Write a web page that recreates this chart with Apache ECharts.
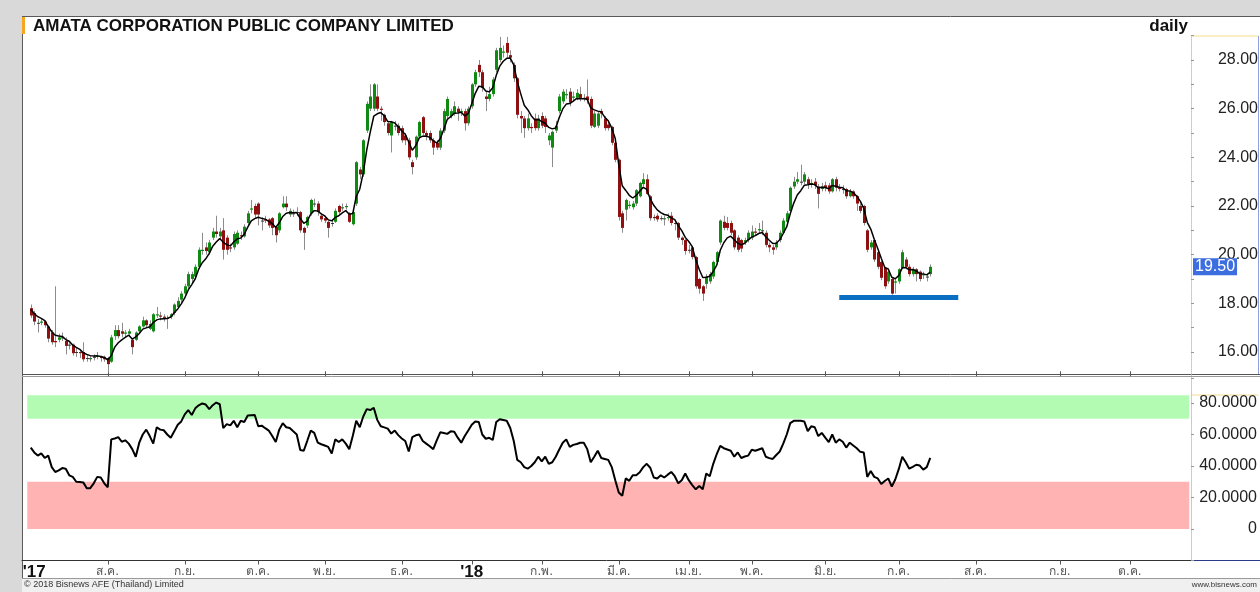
<!DOCTYPE html>
<html>
<head>
<meta charset="utf-8">
<title>AMATA daily</title>
<script src="https://cdn.jsdelivr.net/npm/echarts/dist/echarts.min.js"></script>
<style>
  html, body { margin: 0; padding: 0; background: #d9d9d9; }
  #chart { width: 1260px; height: 592px; }
</style>
</head>
<body>
<div id="chart"></div>
<script>
// trading days on the x axis (first candle sits on day 2)
const totalDays = 334;
const firstDay = 2;

// month marks: index of first trading day + label
const monthDays = [3, 24, 46, 67, 86, 108, 128, 148, 170, 190, 208, 229, 250, 272, 296, 316];
const monthNames = ["'17", 'ส.ค.', 'ก.ย.', 'ต.ค.', 'พ.ย.', 'ธ.ค.', "'18", 'ก.พ.', 'มี.ค.', 'เม.ย.', 'พ.ค.', 'มิ.ย.', 'ก.ค.', 'ส.ค.', 'ก.ย.', 'ต.ค.'];

// daily OHLC
const openVals = [
  17.8, 17.6, 17.2, 17.2, 17.25, 17.05, 16.8, 16.45, 16.5, 16.6,
  16.45, 16.3, 16.3, 16.0, 16.0, 16.0, 15.75, 15.7, 15.8, 15.8,
  15.8, 15.8, 15.75, 15.6, 16.65, 16.9, 16.85, 16.75, 16.75, 16.5,
  16.5, 16.85, 17.05, 17.3, 16.95, 16.85, 17.5, 17.5, 17.45, 17.4,
  17.45, 17.6, 17.85, 18.15, 18.4, 18.7, 19.0, 19.1, 19.5, 20.15,
  20.3, 20.1, 20.7, 20.95, 20.75, 21.0, 20.7, 20.3, 20.3, 20.45,
  20.8, 20.75, 21.3, 21.85, 22.0, 22.1, 21.4, 21.45, 21.45, 21.5,
  21.15, 21.0, 21.95, 22.1, 21.65, 21.7, 21.75, 21.75, 21.1, 21.2,
  21.7, 22.1, 22.1, 21.6, 21.5, 21.35, 21.3, 21.35, 22.0, 21.9,
  21.95, 21.7, 21.25, 22.1, 23.5, 23.3, 25.1, 26.0, 26.0, 26.5,
  26.0, 25.75, 25.4, 24.9, 25.3, 25.3, 25.2, 24.9, 24.7, 23.8,
  24.0, 24.85, 25.65, 25.0, 25.0, 24.7, 24.6, 24.4, 25.1, 25.7,
  25.7, 25.8, 26.0, 25.85, 25.9, 25.4, 26.1, 27.0, 27.8, 27.5,
  26.5, 26.4, 26.6, 27.6, 28.0, 28.3, 28.7, 28.2, 27.8, 27.25,
  25.7, 25.6, 25.2, 25.25, 25.6, 25.2, 25.7, 25.6, 24.7, 24.4,
  25.1, 25.9, 26.3, 26.55, 26.7, 26.45, 26.45, 26.6, 26.45, 26.5,
  26.4, 25.25, 25.3, 25.9, 25.6, 25.35, 25.25, 24.6, 23.9, 21.7,
  21.85, 22.0, 21.95, 22.1, 22.4, 22.9, 23.1, 22.4, 21.55, 21.6,
  21.5, 21.45, 21.5, 21.6, 21.3, 21.3, 20.7, 20.6, 20.2, 20.3,
  19.9, 19.0, 18.7, 18.8, 18.9, 19.1, 19.7, 20.5, 21.35, 21.3,
  21.3, 21.0, 20.7, 20.6, 20.5, 20.6, 20.7, 20.95, 21.0, 21.0,
  20.9, 20.4, 20.3, 20.3, 20.6, 20.9, 21.35, 21.8, 22.8, 23.0,
  23.0, 23.0, 23.1, 22.9, 23.0, 22.8, 22.7, 22.85, 22.85, 22.6,
  23.1, 22.75, 22.7, 22.7, 22.4, 22.6, 22.4, 22.0, 22.0, 21.0,
  20.3, 20.6, 20.1, 19.7, 19.45, 18.9, 19.0, 18.85, 18.9, 19.45,
  19.8, 19.5, 19.2, 19.4, 19.3, 19.15, 19.1, 19.2
];
const closeVals = [
  17.5, 17.25, 17.2, 17.25, 17.1, 16.55, 16.4, 16.4, 16.6, 16.6,
  16.25, 16.3, 15.95, 16.0, 15.95, 15.7, 15.75, 15.75, 15.8, 15.85,
  15.75, 15.7, 15.5, 16.6, 16.9, 16.65, 16.75, 16.8, 16.85, 16.2,
  16.8, 17.05, 17.3, 17.1, 17.15, 17.55, 17.55, 17.45, 17.4, 17.4,
  17.55, 17.95, 18.1, 18.4, 18.7, 19.2, 19.2, 19.5, 20.2, 20.2,
  20.15, 20.5, 20.95, 20.85, 20.95, 20.2, 20.2, 20.25, 20.85, 20.9,
  20.75, 21.15, 21.7, 21.9, 21.65, 21.65, 21.4, 21.4, 21.2, 21.1,
  20.8, 21.7, 22.1, 21.95, 21.8, 21.7, 21.75, 21.0, 20.9, 21.55,
  22.25, 22.1, 21.75, 21.45, 21.4, 21.1, 21.3, 21.8, 21.75, 21.95,
  22.0, 21.35, 21.75, 23.8, 23.3, 24.7, 26.2, 26.5, 27.0, 26.0,
  25.95, 25.45, 25.0, 25.45, 25.3, 25.0, 24.7, 24.7, 24.0, 23.6,
  24.85, 25.45, 25.0, 24.9, 24.7, 24.4, 24.4, 25.1, 25.9, 26.4,
  25.9, 26.1, 25.85, 25.9, 25.4, 26.0, 27.0, 27.5, 27.5, 26.85,
  26.4, 26.6, 27.2, 28.4, 28.5, 28.35, 28.3, 28.1, 27.25, 25.75,
  25.6, 25.2, 25.6, 25.2, 25.2, 25.6, 25.3, 25.25, 24.9, 25.05,
  25.3, 26.5, 26.7, 26.6, 26.25, 26.5, 26.65, 26.4, 26.4, 26.35,
  25.3, 25.8, 25.8, 25.8, 25.2, 25.2, 24.6, 23.9, 21.55, 21.1,
  22.25, 22.05, 22.1, 22.65, 22.95, 23.1, 22.5, 21.5, 21.5, 21.45,
  21.5, 21.5, 21.55, 21.3, 21.3, 20.7, 20.6, 20.15, 20.2, 19.9,
  18.7, 18.6, 18.4, 19.1, 19.2, 19.7, 20.1, 21.4, 21.1, 21.1,
  20.9, 20.3, 20.2, 20.25, 20.6, 20.9, 20.95, 20.9, 21.05, 21.0,
  20.4, 20.3, 20.2, 20.5, 20.9, 21.4, 21.7, 22.75, 23.0, 23.1,
  23.0, 23.3, 22.9, 22.95, 22.85, 22.5, 22.8, 22.75, 22.6, 23.1,
  22.75, 22.7, 22.7, 22.4, 22.6, 22.4, 22.1, 21.8, 21.3, 20.2,
  20.5, 19.8, 19.5, 19.05, 18.7, 19.3, 18.4, 18.9, 19.4, 20.1,
  19.5, 19.2, 19.4, 19.2, 19.0, 19.2, 19.1, 19.5
];
const lowVals = [
  17.4, 17.1, 16.8, 17.1, 17.0, 16.4, 16.3, 16.2, 16.4, 16.45,
  15.9, 16.1, 15.85, 15.8, 15.75, 15.6, 15.6, 15.6, 15.65, 15.7,
  15.6, 15.6, 15.15, 15.55, 16.5, 16.55, 16.6, 16.6, 16.65, 15.9,
  16.45, 16.8, 17.0, 17.0, 16.9, 16.8, 17.4, 17.3, 17.25, 16.95,
  17.35, 17.5, 17.8, 18.05, 18.3, 18.6, 18.8, 19.0, 19.4, 20.0,
  20.0, 20.0, 20.6, 20.7, 20.6, 19.8, 20.0, 20.1, 20.2, 20.4,
  20.6, 20.7, 21.2, 21.7, 21.5, 21.2, 21.0, 21.3, 21.1, 20.8,
  20.5, 20.9, 21.9, 21.8, 21.55, 21.55, 21.6, 20.9, 20.2, 21.1,
  21.6, 21.95, 21.6, 21.35, 21.3, 20.7, 21.15, 21.3, 21.6, 21.8,
  21.85, 21.3, 21.2, 22.0, 23.1, 23.2, 25.0, 25.9, 25.9, 25.9,
  25.5, 25.3, 24.9, 24.2, 25.1, 24.9, 24.6, 24.5, 23.9, 23.3,
  23.9, 24.8, 24.9, 24.7, 24.6, 24.1, 24.3, 24.3, 25.0, 25.6,
  25.6, 25.7, 25.5, 25.7, 25.1, 25.3, 26.0, 26.9, 27.3, 26.7,
  25.9, 26.3, 26.5, 27.5, 27.9, 28.1, 28.1, 27.9, 27.1, 25.6,
  25.0, 24.8, 25.1, 25.0, 25.1, 25.1, 25.2, 25.0, 24.5, 23.6,
  25.0, 25.8, 26.2, 26.4, 26.1, 26.3, 26.35, 26.3, 26.3, 26.2,
  25.2, 25.2, 25.2, 25.6, 25.1, 25.1, 24.5, 23.8, 21.4, 20.9,
  21.4, 21.9, 21.85, 22.0, 22.35, 22.8, 22.45, 21.4, 21.4, 21.35,
  21.4, 21.2, 21.4, 21.2, 21.0, 20.6, 20.4, 20.0, 20.05, 19.8,
  18.6, 18.4, 18.1, 18.6, 18.8, 19.0, 19.6, 20.4, 21.0, 21.0,
  20.8, 20.2, 20.1, 20.1, 20.4, 20.5, 20.6, 20.8, 20.85, 20.8,
  20.3, 20.1, 20.0, 20.2, 20.5, 20.85, 21.3, 21.75, 22.7, 22.9,
  22.85, 22.9, 22.7, 22.75, 22.7, 21.9, 22.6, 22.6, 22.5, 22.55,
  22.6, 22.6, 22.5, 22.3, 22.35, 22.3, 21.8, 21.7, 21.2, 20.1,
  20.2, 19.7, 19.4, 18.95, 18.6, 18.8, 18.35, 18.4, 18.8, 19.4,
  19.4, 19.1, 19.1, 18.9, 18.9, 19.0, 18.9, 19.1
];
const highVals = [
  17.95, 17.7, 17.35, 17.35, 17.3, 17.1, 16.9, 18.7, 16.75, 16.8,
  16.6, 16.4, 16.35, 16.2, 16.1, 16.4, 15.9, 15.85, 15.9, 16.0,
  15.85, 15.85, 15.8, 16.7, 17.1, 17.1, 17.2, 16.9, 16.95, 16.55,
  16.85, 17.1, 17.45, 17.35, 17.3, 17.6, 17.85, 17.65, 17.55, 17.5,
  17.6, 18.0, 18.25, 18.5, 18.8, 19.3, 19.3, 19.6, 20.3, 20.9,
  20.5, 20.6, 21.1, 21.6, 21.1, 21.5, 20.8, 20.45, 20.95, 21.0,
  20.95, 21.25, 21.8, 22.25, 22.1, 22.15, 21.55, 21.6, 21.5, 21.55,
  21.2, 21.75, 22.4, 22.4, 21.9, 21.85, 21.95, 21.8, 21.15, 21.6,
  22.3, 22.3, 22.2, 21.7, 21.6, 21.4, 21.45, 21.9, 22.05, 22.1,
  22.1, 21.75, 21.8, 23.85, 23.6, 24.75, 26.3, 27.0, 27.05, 27.0,
  26.1, 25.8, 25.5, 25.5, 25.5, 25.4, 25.3, 25.0, 24.8, 23.9,
  24.9, 25.5, 25.7, 25.1, 25.1, 24.8, 24.7, 25.2, 26.0, 26.5,
  26.0, 26.3, 26.1, 26.0, 26.0, 26.1, 27.05, 27.6, 28.0, 27.6,
  26.7, 26.9, 27.3, 28.5, 28.95, 28.6, 28.95, 28.4, 27.9, 27.3,
  25.9, 25.7, 25.8, 25.4, 25.8, 25.75, 25.85, 25.7, 25.0, 25.1,
  25.5, 26.6, 26.8, 26.8, 26.85, 26.7, 26.8, 26.9, 26.6, 27.2,
  26.5, 25.9, 25.9, 26.0, 25.7, 25.5, 25.3, 24.7, 23.95, 21.8,
  22.3, 22.2, 22.2, 22.7, 23.0, 23.35, 23.3, 22.45, 21.65, 21.7,
  21.6, 21.6, 21.7, 21.75, 21.4, 21.35, 20.75, 20.65, 20.4, 20.35,
  19.95, 19.05, 18.75, 19.2, 19.3, 19.75, 20.15, 21.45, 21.6, 21.55,
  21.4, 21.05, 20.8, 20.65, 20.7, 21.0, 21.2, 21.1, 21.3, 21.4,
  21.0, 20.5, 20.4, 20.6, 21.0, 21.5, 21.8, 22.8, 23.2, 23.4,
  23.7, 23.4, 23.2, 23.1, 23.15, 22.9, 22.95, 23.0, 22.95, 23.15,
  23.2, 22.9, 22.85, 22.75, 22.7, 22.65, 22.45, 22.1, 22.05, 21.05,
  20.6, 20.65, 20.15, 19.75, 19.5, 19.35, 19.05, 19.0, 19.45, 20.2,
  19.9, 19.6, 19.5, 19.45, 19.35, 19.3, 19.2, 19.6
];

// moving average as plotted
const maVals = [
  17.75, 17.58, 17.45, 17.38, 17.29, 17.04, 16.83, 16.69, 16.66, 16.64,
  16.51, 16.44, 16.28, 16.19, 16.11, 15.97, 15.9, 15.85, 15.83, 15.84,
  15.81, 15.77, 15.68, 15.85, 16.2, 16.38, 16.5, 16.6, 16.69, 16.53,
  16.62, 16.76, 16.94, 16.99, 17.04, 17.21, 17.32, 17.36, 17.37, 17.38,
  17.44, 17.61, 17.77, 17.98, 18.22, 18.55, 18.77, 19.01, 19.41, 19.67,
  19.83, 20.05, 20.35, 20.52, 20.66, 20.51, 20.41, 20.36, 20.52, 20.65,
  20.68, 20.84, 21.13, 21.39, 21.48, 21.54, 21.49, 21.46, 21.37, 21.28,
  21.12, 21.31, 21.57, 21.7, 21.73, 21.72, 21.73, 21.49, 21.29, 21.38,
  21.67, 21.81, 21.79, 21.68, 21.59, 21.43, 21.39, 21.53, 21.6, 21.72,
  21.81, 21.66, 21.69, 22.39, 22.69, 23.36, 24.31, 25.04, 25.69, 25.79,
  25.84, 25.71, 25.47, 25.46, 25.41, 25.27, 25.08, 24.95, 24.63, 24.29,
  24.48, 24.8, 24.87, 24.88, 24.82, 24.68, 24.59, 24.76, 25.14, 25.56,
  25.67, 25.81, 25.82, 25.85, 25.7, 25.8, 26.2, 26.63, 26.92, 26.9,
  26.73, 26.69, 26.86, 27.37, 27.75, 27.95, 28.07, 28.08, 27.8, 27.12,
  26.61, 26.14, 25.96, 25.71, 25.54, 25.56, 25.47, 25.4, 25.23, 25.17,
  25.21, 25.64, 25.99, 26.19, 26.21, 26.31, 26.42, 26.41, 26.41, 26.39,
  26.03, 25.95, 25.9, 25.87, 25.65, 25.5, 25.2, 24.77, 23.7, 22.83,
  22.64, 22.44, 22.33, 22.44, 22.61, 22.77, 22.68, 22.29, 22.03, 21.84,
  21.73, 21.65, 21.62, 21.51, 21.44, 21.19, 20.99, 20.71, 20.54, 20.33,
  19.79, 19.39, 19.06, 19.07, 19.11, 19.31, 19.57, 20.18, 20.49, 20.69,
  20.76, 20.61, 20.47, 20.4, 20.47, 20.61, 20.72, 20.78, 20.87, 20.91,
  20.74, 20.59, 20.46, 20.47, 20.61, 20.87, 21.15, 21.68, 22.12, 22.45,
  22.63, 22.85, 22.87, 22.9, 22.88, 22.75, 22.77, 22.76, 22.71, 22.84,
  22.81, 22.77, 22.75, 22.63, 22.62, 22.55, 22.4, 22.2, 21.9, 21.33,
  21.05, 20.63, 20.25, 19.85, 19.47, 19.41, 19.07, 19.01, 19.14, 19.46,
  19.47, 19.38, 19.39, 19.33, 19.22, 19.21, 19.17, 19.28
];

// RSI panel
const rsiVals = [
  51.7, 48.6, 46.6, 48, 45.1, 46.6, 39.3, 36.2, 37.2, 38.7,
  38.3, 34.1, 33.1, 30, 29.8, 29.6, 25.9, 25.9, 29, 33.1,
  32.7, 29, 26.5, 56.9, 57.5, 58.3, 55.4, 56.3, 54.2, 50.7,
  45.9, 54.8, 60, 63.1, 59, 54.2, 64.6, 63.1, 62.7, 60,
  57.9, 62, 66.2, 68.3, 72.8, 75.5, 72.4, 76.6, 78.5, 79.7,
  79, 76.1, 78.6, 80.3, 79.2, 64.1, 66.6, 65.8, 68.7, 64.6,
  68.7, 67.9, 72, 72.2, 72.4, 65.2, 65.6, 64, 62.5, 59,
  55.2, 63.1, 67.2, 64.6, 64.1, 62, 60, 50.1, 49.7, 56,
  62.5, 61, 54.8, 53.8, 53, 52.1, 48, 56.9, 55.2, 56.9,
  54.2, 50.7, 59, 68.7, 64.6, 71.4, 76.1, 75.5, 77, 69.3,
  65.2, 64.5, 63.7, 60.6, 62.5, 59.6, 57.5, 55.9, 49.2, 58.3,
  59.5, 60, 55.9, 54.2, 52.5, 50.7, 56.3, 61.4, 61, 60.4,
  62, 61.8, 58, 54.8, 59, 62.5, 66.2, 68.3, 67.9, 60,
  57.3, 57.9, 56.5, 67.9, 69.7, 69.2, 68.7, 64.1, 55.9, 43.9,
  42.4, 39.3, 38.3, 40, 42.4, 45.9, 43, 45.9, 41.4, 42.4,
  45.9, 50.5, 54.8, 56.9, 52.1, 53.4, 54, 54.8, 54.8, 50.7,
  42.4, 45.9, 49.7, 45.1, 44.5, 43.9, 39.3, 31, 23.2, 21.1,
  32.1, 30.6, 34.1, 34.1, 36, 39.3, 41.4, 38.9, 32.7, 32.1,
  34.1, 32.7, 34.5, 36.2, 33.5, 29, 31, 35.2, 31, 27.9,
  25.2, 27.3, 25.2, 35.2, 33.5, 41.4, 47.6, 52.8, 51.3, 50.5,
  49.7, 45.9, 48.6, 45.1, 46, 46.6, 50.3, 49.7, 50.5, 51.3,
  45.9, 45, 44.5, 47, 49.2, 54.2, 60, 67.2, 68.7, 68.7,
  68.7, 68.3, 62.1, 65.2, 64.6, 59, 61, 58, 55.2, 60,
  54.8, 56.9, 55.4, 51.7, 54.8, 53, 51.3, 49, 48.6, 33.1,
  36.8, 33.1, 32.1, 28.6, 30.5, 32.1, 26.9, 31.4, 38, 45.9,
  42.4, 38.3, 39.5, 40.8, 40.3, 37.7, 39.3, 45.1
];

const lastPrice = 19.5;
const supportLevel = 18.25;
const supportFrom = 233, supportTo = 267;
const obBand = [70, 85];
const osBand = [0, 30];

const days = Array.from({ length: totalDays }, (_, i) => String(i));
const candles = openVals.map((o, i) => [firstDay + i, o, closeVals[i], lowVals[i], highVals[i]]);
const maLine = maVals.map((v, i) => [firstDay + i, v]);
const rsiLine = rsiVals.map((v, i) => [firstDay + i, v]);

const chart = echarts.init(document.getElementById('chart'), null, { renderer: 'canvas' });

const isMonth = idx => monthDays.indexOf(idx) >= 0;
const isMonthTick = idx => monthDays.indexOf(idx) > 0;

function renderCandle(params, api) {
  const d = api.value(0);
  const o = api.value(1), c = api.value(2), lo = api.value(3), hi = api.value(4);
  const pHi = api.coord([d, hi]);
  const pLo = api.coord([d, lo]);
  const pO = api.coord([d, o]);
  const pC = api.coord([d, c]);
  const x = Math.round(pHi[0]);
  const top = Math.min(pO[1], pC[1]);
  const h = Math.max(Math.abs(pO[1] - pC[1]), 1);
  let fill = '#333333';
  if (c > o) fill = '#118a14';
  if (c < o) fill = '#8e1010';
  return {
    type: 'group',
    children: [
      { type: 'line', shape: { x1: x + 0.5, y1: pHi[1], x2: x + 0.5, y2: pLo[1] }, style: { stroke: '#8c8c8c', lineWidth: 1 } },
      { type: 'rect', shape: { x: x - 1, y: top, width: 3, height: h }, style: { fill: fill } }
    ]
  };
}

const font = 'Liberation Sans, Arial, sans-serif';

const option = {
  backgroundColor: '#d9d9d9',
  animation: false,
  title: [
    { text: 'AMATA CORPORATION PUBLIC COMPANY LIMITED', left: 28, top: 13,
      textStyle: { fontFamily: font, fontSize: 17, fontWeight: 'bold', color: '#111' } },
    { text: 'daily', right: 67, top: 13,
      textStyle: { fontFamily: font, fontSize: 17, fontWeight: 'bold', color: '#111' } }
  ],
  graphic: [
    // white chart frame
    { type: 'rect', z: -10, shape: { x: 22, y: 16, width: 1238, height: 562 }, style: { fill: '#ffffff' } },
    { type: 'rect', z: -10, shape: { x: 22, y: 578, width: 1238, height: 14 }, style: { fill: '#f0f0f0' } },
    { type: 'line', shape: { x1: 22, y1: 16.5, x2: 1260, y2: 16.5 }, style: { stroke: '#5a5a5a', lineWidth: 1 } },
    { type: 'line', shape: { x1: 22.5, y1: 16, x2: 22.5, y2: 578 }, style: { stroke: '#5a5a5a', lineWidth: 1 } },
    { type: 'rect', shape: { x: 22, y: 17, width: 3, height: 17 }, style: { fill: '#f5a623' } },
    // panel separator
    { type: 'line', shape: { x1: 22, y1: 374.5, x2: 1260, y2: 374.5 }, style: { stroke: '#555', lineWidth: 1 } },
    { type: 'line', shape: { x1: 22, y1: 376.5, x2: 1260, y2: 376.5 }, style: { stroke: '#999', lineWidth: 1 } },
    // axis column borders
    { type: 'line', shape: { x1: 1191.5, y1: 36, x2: 1258.5, y2: 36 }, style: { stroke: '#f3dc8a', lineWidth: 1 } },
    { type: 'line', shape: { x1: 1258.5, y1: 36, x2: 1258.5, y2: 374 }, style: { stroke: '#8fa0e0', lineWidth: 1 } },
    { type: 'line', shape: { x1: 1191.5, y1: 395, x2: 1258.5, y2: 395 }, style: { stroke: '#f3dc8a', lineWidth: 1 } },
    { type: 'line', shape: { x1: 1191, y1: 560.5, x2: 1260, y2: 560.5 }, style: { stroke: '#2a3a8a', lineWidth: 1 } },
    // footer
    { type: 'line', shape: { x1: 22, y1: 578.5, x2: 1260, y2: 578.5 }, style: { stroke: '#9a9a9a', lineWidth: 1 } },
    { type: 'text', left: 24, top: 580, style: { text: '© 2018 Bisnews AFE (Thailand) Limited', font: '9px ' + font, fill: '#333' } },
    { type: 'text', right: 3, top: 581, style: { text: 'www.bisnews.com', font: '8px ' + font, fill: '#333' } }
  ],
  grid: [
    { left: 22, right: 69, top: 35.7, height: 340.6, outerBoundsMode: 'none' },
    { left: 22, right: 69, top: 377.8, height: 182.7, outerBoundsMode: 'none' }
  ],
  xAxis: [
    {
      type: 'category', gridIndex: 0, data: days, boundaryGap: true,
      axisLine: { show: false, onZero: false },
      axisTick: { show: true, inside: true, length: 5, alignWithLabel: true,
        interval: isMonthTick, lineStyle: { color: '#555' } },
      axisLabel: { show: false },
      splitLine: { show: false }
    },
    {
      type: 'category', gridIndex: 1, data: days, boundaryGap: true,
      axisLine: { show: true, onZero: false, lineStyle: { color: '#333', width: 1 } },
      axisTick: { show: true, length: 4, alignWithLabel: true,
        interval: isMonthTick, lineStyle: { color: '#555' } },
      axisLabel: {
        show: true, interval: isMonth, margin: 3,
        formatter: (val) => {
          const k = monthDays.indexOf(Number(val));
          if (k < 0) return '';
          const name = monthNames[k];
          return name.charAt(0) === "'" ? '{y|' + name + '}' : '{m|' + name + '}';
        },
        rich: {
          y: { fontFamily: font, fontSize: 17, fontWeight: 'bold', color: '#111', lineHeight: 17 },
          m: { fontFamily: 'DejaVu Sans, Noto Sans, sans-serif', fontSize: 12, color: '#555', lineHeight: 17 }
        }
      },
      splitLine: { show: false }
    }
  ],
  yAxis: [
    {
      type: 'value', gridIndex: 0, position: 'right', min: 15, max: 29, interval: 1,
      axisLine: { show: true, lineStyle: { color: '#e8c860', type: 'dotted' } },
      axisTick: { show: true, length: 3, lineStyle: { color: '#999' } },
      axisLabel: {
        margin: 67, align: 'right', fontFamily: font, fontSize: 16, color: '#222',
        formatter: v => (v >= 16 && v <= 28 && v % 2 === 0) ? v.toFixed(2) : ''
      },
      splitLine: { show: false }
    },
    {
      type: 'value', gridIndex: 1, position: 'right', min: -20, max: 96, interval: 20,
      axisLine: { show: true, lineStyle: { color: '#e8c860', type: 'dotted' } },
      axisTick: { show: true, length: 3, lineStyle: { color: '#999' } },
      axisLabel: {
        margin: 66, align: 'right', fontFamily: font, fontSize: 16, color: '#222',
        formatter: v => (v === 0 ? '0' : (v > 0 && v <= 80 ? v.toFixed(4) : ''))
      },
      splitLine: { show: false }
    }
  ],
  series: [
    {
      name: 'price', type: 'custom', xAxisIndex: 0, yAxisIndex: 0,
      renderItem: renderCandle, data: candles,
      encode: { x: 0, y: [1, 2, 3, 4] }, z: 3
    },
    {
      name: 'ma', type: 'line', xAxisIndex: 0, yAxisIndex: 0, data: maLine,
      showSymbol: false, symbol: 'none', z: 4,
      lineStyle: { color: '#000', width: 1.5 },
      markLine: {
        silent: true, symbol: 'none', animation: false,
        data: [
          {
            yAxis: lastPrice,
            lineStyle: { color: 'rgba(0,0,0,0)', width: 0 },
            label: { show: true, position: 'end', distance: 2, formatter: lastPrice.toFixed(2),
              backgroundColor: '#3d6ee0', color: '#fff', fontFamily: font, fontSize: 16,
              padding: [1, 2, 0, 2] }
          },
          [
            { coord: [supportFrom, supportLevel], lineStyle: { color: '#0a6fc2', width: 5, type: 'solid', opacity: 1 }, label: { show: false } },
            { coord: [supportTo, supportLevel] }
          ]
        ]
      }
    },
    {
      name: 'rsi', type: 'line', xAxisIndex: 1, yAxisIndex: 1, data: rsiLine,
      showSymbol: false, symbol: 'none', z: 4,
      lineStyle: { color: '#000', width: 2 },
      markArea: {
        silent: true,
        data: [
          [{ xAxis: 1, yAxis: obBand[0], itemStyle: { color: '#b3fbb3' } }, { xAxis: totalDays - 1, yAxis: obBand[1] }],
          [{ xAxis: 1, yAxis: osBand[0], itemStyle: { color: '#ffb3b3' } }, { xAxis: totalDays - 1, yAxis: osBand[1] }]
        ]
      }
    }
  ]
};

chart.setOption(option);
</script>
</body>
</html>
